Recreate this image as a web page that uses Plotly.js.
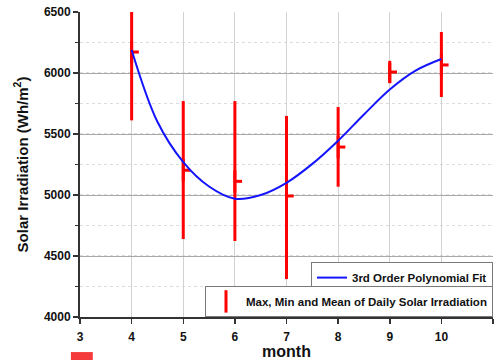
<!DOCTYPE html>
<html>
<head>
<meta charset="utf-8">
<script src="https://cdn.plot.ly/plotly-3.0.1.min.js"></script>
<style>html,body{margin:0;padding:0;background:#fff;}#chart{width:495px;height:360px;}</style>
</head>
<body>
<div id="chart"></div>
<script>
// Monthly daily solar irradiation statistics (Wh/m^2)
const months = [4, 5, 6, 7, 8, 9, 10];
const maxVals = [6500, 5770, 5770, 5648, 5721, 6082, 6336];
const minVals = [5612, 4639, 4623, 4311, 5068, 5918, 5803];
const meanVals = [6172, 5203, 5112, 4992, 5393, 6008, 6066];

// 3rd order polynomial fit curve
const fitX = [4, 4.5, 5, 5.5, 6, 6.5, 7, 7.5, 8, 8.5, 9, 9.5, 10];
const fitY = [6189, 5600, 5270, 5070, 4970, 5000, 5100, 5255, 5445, 5660, 5865, 6020, 6115];

const xTicks = [3, 4, 5, 6, 7, 8, 9, 10, 11];
const yTicks = [4000, 4500, 5000, 5500, 6000, 6500];

const FONT = 'Liberation Sans, Arial, sans-serif';
const TICK_W = 0.14;

// mean ticks to the right of each bar
const tickX = [], tickY = [];
months.forEach((m, i) => {
  tickX.push(m, m + TICK_W, null);
  tickY.push(meanVals[i], meanVals[i], null);
});

const traces = [
  {
    type: 'scatter', mode: 'markers',
    x: months, y: meanVals,
    name: 'Max, Min and Mean of Daily Solar Irradiation',
    legend: 'legend2',
    marker: {symbol: 'line-ns-open', size: 16, color: 'red', line: {color: 'red', width: 3}},
    error_y: {
      type: 'data', symmetric: false,
      array: maxVals.map((v, i) => v - meanVals[i]),
      arrayminus: meanVals.map((v, i) => v - minVals[i]),
      width: 0, thickness: 3, color: 'red'
    },
    cliponaxis: true,
    hoverinfo: 'skip'
  },
  {
    type: 'scatter', mode: 'lines',
    x: tickX, y: tickY,
    line: {color: 'red', width: 3},
    showlegend: false, hoverinfo: 'skip'
  },
  {
    type: 'scatter', mode: 'lines',
    x: fitX, y: fitY,
    name: '3rd Order Polynomial Fit',
    legend: 'legend',
    line: {color: '#1414ff', width: 2, shape: 'spline', smoothing: 1},
    hoverinfo: 'skip'
  }
];

const legendCommon = {
  bgcolor: '#ffffff', bordercolor: '#7a7a7a', borderwidth: 1,
  font: {family: FONT, size: 11.5, color: '#111', weight: 'bold'},
  xanchor: 'right', yanchor: 'top', xref: 'paper', yref: 'paper'
};

const layout = {
  width: 495, height: 360,
  margin: {l: 80, r: 2, t: 12, b: 43},
  paper_bgcolor: '#ffffff', plot_bgcolor: '#ffffff',
  font: {family: FONT, color: '#111'},
  showlegend: true,
  legend: Object.assign({}, legendCommon, {x: 1, y: 0.18}),
  legend2: Object.assign({}, legendCommon, {x: 1, y: 0.102}),
  xaxis: {
    range: [3, 11], tickvals: xTicks, ticktext: xTicks.map(String),
    showgrid: true, gridcolor: '#d2d2d2', gridwidth: 1,
    showline: true, linecolor: '#333', linewidth: 2,
    ticks: 'outside', ticklen: 5, tickwidth: 1.5, tickcolor: '#333',
    ticklabelstandoff: 3,
    tickfont: {family: FONT, size: 12, weight: 'bold', color: '#111'},
    zeroline: false,
    title: {text: 'month', font: {family: FONT, size: 16, weight: 'bold', color: '#111'}, standoff: 3}
  },
  yaxis: {
    range: [4000, 6500], tickvals: yTicks, ticktext: yTicks.map(String),
    showgrid: true, gridcolor: '#a9a9a9', gridwidth: 1,
    showline: true, linecolor: '#333', linewidth: 2,
    ticks: 'outside', ticklen: 5, tickwidth: 1.5, tickcolor: '#333',
    tickfont: {family: FONT, size: 12, weight: 'bold', color: '#111'},
    zeroline: false,
    minor: {dtick: 250, tick0: 4000, showgrid: true, gridcolor: '#dddddd', griddash: 'dot', gridwidth: 1.5,
            ticks: 'outside', ticklen: 3, tickcolor: '#333'},
    title: {text: 'Solar Irradiation (Wh/m<sup>2</sup>)', font: {family: FONT, size: 15, weight: 'bold', color: '#111'}, standoff: 12}
  },
  shapes: [
    {type: 'rect', xref: 'paper', yref: 'paper', x0: -0.022, x1: 0.031, y0: -0.16, y1: -0.115,
     fillcolor: '#f43a3a', line: {width: 0}, layer: 'above'}
  ]
};

Plotly.newPlot('chart', traces, layout, {displayModeBar: false, staticPlot: true});
</script>
</body>
</html>
